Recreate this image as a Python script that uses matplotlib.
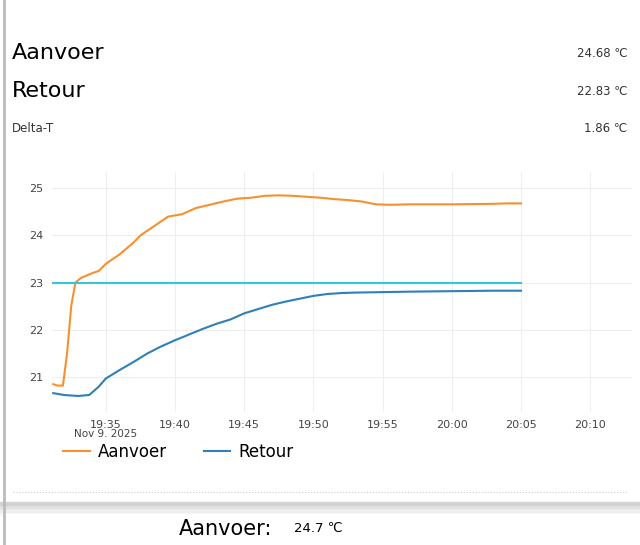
import matplotlib.pyplot as plt
import matplotlib.dates as mdates
from datetime import datetime, timedelta

# minutes after 19:00
aanvoer_min = [31.2, 31.5, 31.9, 32.2, 32.5, 32.8, 33.2, 34, 34.5, 35, 36, 37, 37.5, 38.5, 39.5,
               40.5, 41.5, 42.5, 43.5, 44.5, 45.5, 46.5, 47.5, 48.5, 49.5, 50.5, 51.5, 52.5,
               53.5, 54.5, 55.5, 57, 60, 63, 64, 65]
aanvoer_val = [20.85, 20.82, 20.82, 21.5, 22.5, 23.0, 23.1, 23.2, 23.25, 23.4, 23.6, 23.85, 24.0,
               24.2, 24.4, 24.45, 24.58, 24.65, 24.72, 24.78, 24.8, 24.84, 24.85, 24.84, 24.82,
               24.8, 24.77, 24.75, 24.72, 24.66, 24.65, 24.66, 24.66, 24.67, 24.68, 24.68]
retour_min = [31.2, 32, 33, 33.8, 34.5, 35, 36, 37, 38, 39, 40, 41, 42, 43, 44, 45, 46, 47, 48,
              49, 50, 51, 52, 53, 55, 57, 60, 63, 65]
retour_val = [20.66, 20.62, 20.6, 20.62, 20.8, 20.97, 21.15, 21.32, 21.5, 21.65, 21.78, 21.9,
              22.02, 22.13, 22.22, 22.35, 22.44, 22.53, 22.6, 22.66, 22.72, 22.76, 22.78, 22.79,
              22.8, 22.81, 22.82, 22.83, 22.83]
setpoint = 23.0

t0 = datetime(2025, 11, 9, 19, 0)
to_t = lambda ms: [t0 + timedelta(minutes=m) for m in ms]

fig = plt.figure(figsize=(6.4, 5.45), dpi=100)
fig.patch.set_facecolor('white')

# header
fig.text(0.018, 0.902, 'Aanvoer', fontsize=16, va='center')
fig.text(0.018, 0.833, 'Retour', fontsize=16, va='center')
fig.text(0.018, 0.764, 'Delta-T', fontsize=8.5, va='center', color='#333333')
fig.text(0.98, 0.902, '24.68 ℃', fontsize=8.5, va='center', ha='right', color='#333333')
fig.text(0.98, 0.833, '22.83 ℃', fontsize=8.5, va='center', ha='right', color='#333333')
fig.text(0.98, 0.764, '1.86 ℃', fontsize=8.5, va='center', ha='right', color='#333333')
fig.add_artist(plt.Line2D([0.006, 0.006], [0, 1], color='#bbbbbb', lw=2))

ax = fig.add_axes([0.081, 0.244, 0.906, 0.44])
ax.plot(to_t(aanvoer_min), aanvoer_val, color='#f7902f', lw=1.5, label='Aanvoer')
ax.plot(to_t(retour_min), retour_val, color='#2f7fb8', lw=1.5, label='Retour')
ax.plot(to_t([aanvoer_min[0], aanvoer_min[-1]]), [setpoint, setpoint], color='#33c7d9', lw=1.5)

ax.set_xlim(t0 + timedelta(minutes=31.1), t0 + timedelta(minutes=73))
ax.set_ylim(20.26, 25.34)
ax.set_yticks([21, 22, 23, 24, 25])
ax.xaxis.set_major_locator(mdates.MinuteLocator(byminute=range(0, 60, 5)))
ax.xaxis.set_major_formatter(mdates.DateFormatter('%H:%M'))
ax.grid(True, color='#eeeeee', lw=0.8)
for s in ax.spines.values():
    s.set_visible(False)
ax.tick_params(length=0, labelsize=8, colors='#444444', pad=6)
ax.text(t0 + timedelta(minutes=35), 20.26 - 0.36, 'Nov 9. 2025', fontsize=7.5, color='#444444',
        ha='center', va='top')
fig.legend(loc='center left', bbox_to_anchor=(0.075, 0.171), ncol=2, frameon=False,
           fontsize=12, handlelength=1.6, columnspacing=2.2, handletextpad=0.5)

# footer
fig.add_artist(plt.Line2D([0.02, 0.98], [0.098, 0.098], color='#cccccc', lw=0.8, ls=':'))
for i, g in enumerate(['#f7f7f7', '#eeeeee', '#e2e2e2', '#d2d2d2']):
    fig.add_artist(plt.Rectangle((0, 0.055 + 0.006 * i), 1, 0.006, color=g))
fig.add_artist(plt.Rectangle((0.006, 0), 0.994, 0.056, color='white'))
fig.text(0.28, 0.03, 'Aanvoer:', fontsize=15, va='center')
fig.text(0.46, 0.03, '24.7 ℃', fontsize=9.5, va='center')

fig.savefig('out.png', dpi=100)
